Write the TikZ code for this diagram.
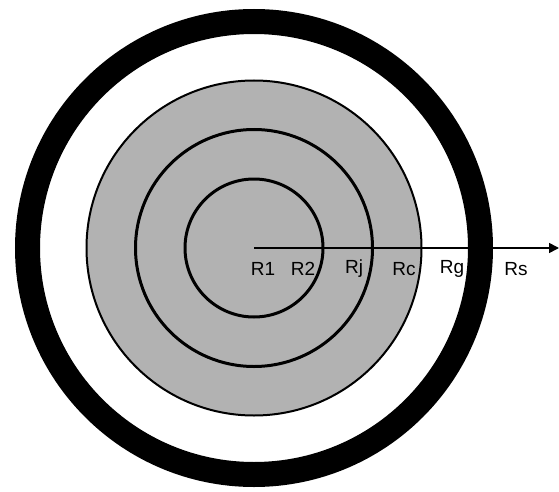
\documentclass[tikz,border=0pt]{standalone}
\usepackage{fontspec}
\setmainfont{Liberation Sans}
\usetikzlibrary{arrows.meta}
\tikzset{
  shellring/.style={draw=black,line width=25pt},
  coredisk/.style={draw=black,fill=black!30,line width=2pt},
  layerline/.style={draw=black,line width=3pt},
  radiusarrow/.style={-{Triangle[length=10pt,width=10pt]},line width=1.6pt},
  rlabel/.style={font=\fontsize{19}{19}\selectfont,inner sep=0pt},
}

\begin{document}
\begin{tikzpicture}[x=1pt,y=1pt]
  \useasboundingbox (0,0) rectangle (559,491);
  \coordinate (center) at (254,243);
  \draw[shellring] (center) circle[radius=226.5];
  \draw[coredisk] (center) circle[radius=167.5];
  \draw[layerline] (center) circle[radius=118.5];
  \draw[layerline] (center) circle[radius=69];
  \coordinate (tipend) at (559,243);
  \draw[radiusarrow] (center) -- (tipend);
  \node[rlabel] (r1) at (263,222) {R1};
  \node[rlabel] (r2) at (303,222) {R2};
  \node[rlabel] (rj) at (354,222) {Rj};
  \node[rlabel] (rc) at (404,222) {Rc};
  \node[rlabel] (rg) at (452,222) {Rg};
  \node[rlabel] (rs) at (516,222) {Rs};
\end{tikzpicture}
\end{document}
